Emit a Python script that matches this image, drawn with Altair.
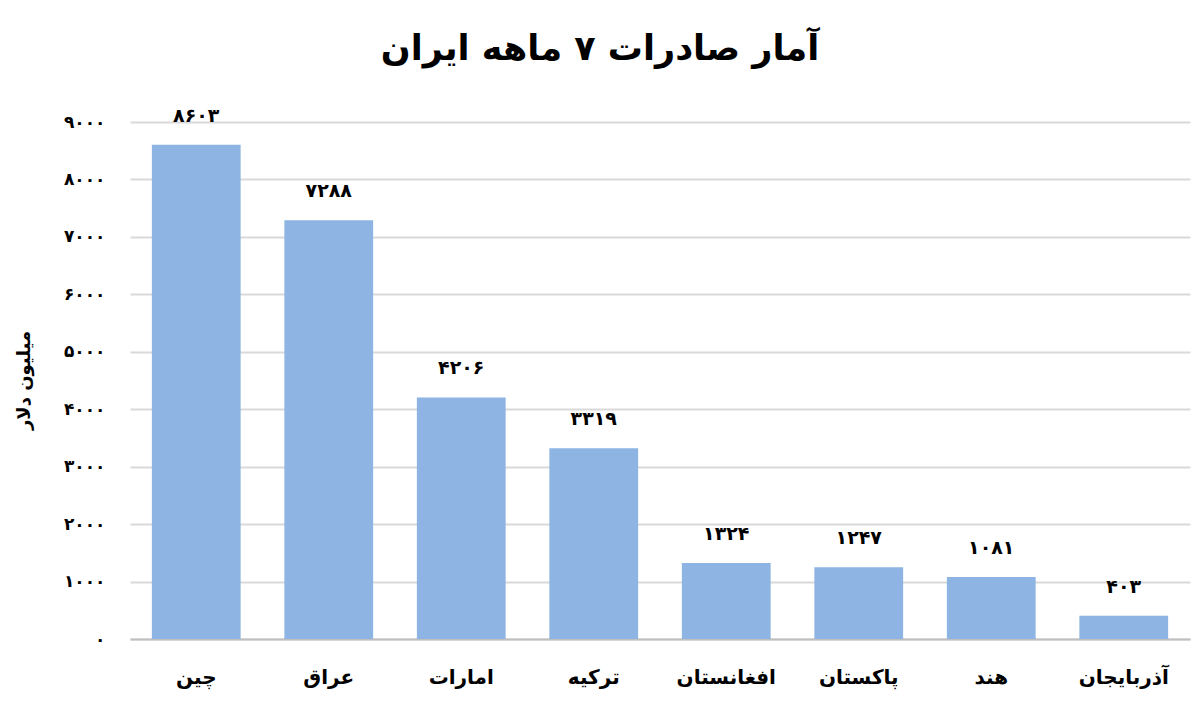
import altair as alt
import pandas as pd

countries = ["چین", "عراق", "امارات", "ترکیه", "افغانستان", "پاکستان", "هند", "آذربایجان"]
values = [8603, 7288, 4206, 3319, 1324, 1247, 1081, 403]
tick_values = [0, 1000, 2000, 3000, 4000, 5000, 6000, 7000, 8000, 9000]
tick_labels = ["۰", "۱۰۰۰", "۲۰۰۰", "۳۰۰۰", "۴۰۰۰", "۵۰۰۰", "۶۰۰۰", "۷۰۰۰", "۸۰۰۰", "۹۰۰۰"]

fa_digits = str.maketrans("0123456789", "۰۱۲۳۴۵۶۷۸۹")
df = pd.DataFrame({
    "country": countries,
    "value": values,
    "label": [str(v).translate(fa_digits) for v in values],
})

label_map = "{" + ",".join(f"'{v}':'{l}'" for v, l in zip(tick_values, tick_labels)) + "}"

FONT = "DejaVu Sans"

base = alt.Chart(df).encode(
    x=alt.X("country:N", sort=countries, title=None,
            scale=alt.Scale(paddingInner=0.33, paddingOuter=0.165),
            axis=alt.Axis(labelAngle=0, labelFontSize=20, labelFontWeight="bold",
                          labelFont=FONT, labelColor="#000000", labelPadding=28,
                          ticks=False, grid=False, domainColor="#bfbfbf", domainWidth=2)),
)

bars = base.mark_bar(color="#8db4e2").encode(
    y=alt.Y("value:Q", title="میلیون دلار",
            scale=alt.Scale(domain=[0, 9000], nice=False),
            axis=alt.Axis(values=tick_values, format="d",
                          labelExpr=f"{label_map}[datum.label]",
                          labelFontSize=17, labelFontWeight="bold", labelFont=FONT,
                          labelColor="#000000", labelPadding=25,
                          ticks=False, domain=False,
                          gridColor="#d9d9d9", gridWidth=2,
                          titleFont=FONT, titleFontSize=18, titleFontWeight="bold",
                          titleColor="#000000", titleX=-106, titleY=258,
                          titleAngle=-90, titleAlign="center", titleBaseline="middle")),
)

texts = base.mark_text(dy=-29, fontSize=19, fontWeight="bold", font=FONT,
                       color="#000000", baseline="middle").encode(
    y="value:Q",
    text="label:N",
)

chart = (bars + texts).properties(
    width=1060,
    height=517,
    background="#ffffff",
    autosize=alt.AutoSizeParams(type="none"),
    padding={"left": 122, "top": 114, "right": 2, "bottom": 60},
    title=alt.TitleParams("آمار صادرات ۷ ماهه ایران", font=FONT, fontSize=35,
                          fontWeight="bold", color="#000000", anchor="middle",
                          dx=-60, offset=40),
).configure_view(strokeWidth=0)

chart.save("out.html", embed_options={"renderer": "svg", "actions": False})
